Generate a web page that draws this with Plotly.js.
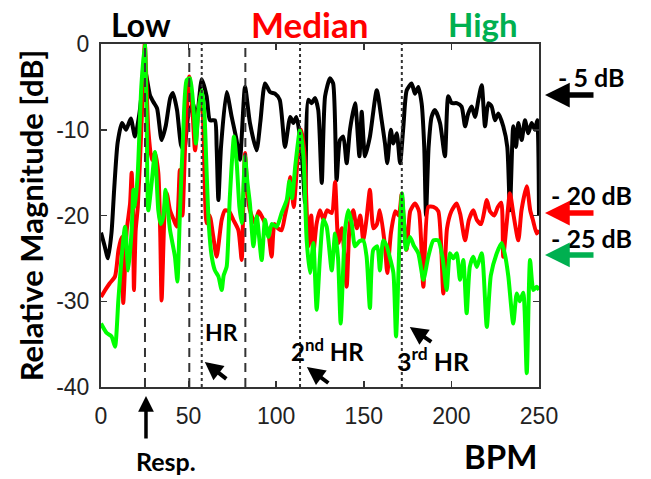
<!DOCTYPE html>
<html><head><meta charset="utf-8">
<script src="https://cdn.plot.ly/plotly-3.0.1.min.js"></script>
<style>html,body{margin:0;padding:0;background:#fff}#chart{width:651px;height:479px}</style>
</head><body><div id="chart"></div>
<script>
// ---- data (BPM, relative magnitude dB) ----
const lowX = [0,2,4,6,7.5,9.5,12,14.3,17,19.4,22,25,28,30,32,34.6,37,39.5,41,43.4,45.7,47.4,50,52.5,54.5,57.5,60.3,62.2,65,66,67,68.5,71.7,74.6,77.4,79.3,82.2,85,88.8,91,93.6,96.5,99.3,102,105,108,109.8,111.5,113,115,116.5,118.3,120.2,122.1,124,126,127.9,130.7,132.5,134.5,136.4,138.3,140.2,142.1,145,147.5,148.8,150.7,153.5,157.4,160.2,162.1,163.4,165.4,166.9,168.8,170.7,172.6,174.5,177.3,179.2,181.1,183,184.5,185.5,187,188.7,190.6,193.5,196.3,198.2,200.2,203,205.8,207.8,209.6,211.6,213.5,215.4,217.3,219.2,221.1,223,224.9,226.8,229.6,231.9,233.4,235.3,236.9,238.2,240.1,242,243.9,245.8,247.7,249,250];
const lowY = [-22,-23.5,-25,-22,-17,-11.5,-9.2,-10,-8.7,-10.8,-8,-3,-6,-6.8,-7.5,-11.2,-9.5,-6.3,-5.7,-7.7,-11.8,-12.4,-8,-7,-9,-4.1,-6.1,-8.9,-8.9,-12,-18.2,-12,-5.6,-8.5,-11.2,-13.5,-5.0,-9.2,-12.4,-9,-4.6,-5.6,-5.8,-6.5,-12,-8.5,-9.2,-8.5,-10,-14,-18.5,-6.5,-6.9,-6.3,-7.7,-16.2,-6.1,-4.0,-4.6,-15.9,-11.2,-10.8,-13.9,-10,-6.9,-13.1,-7.9,-13.1,-10.8,-5.4,-8.9,-11.6,-13.9,-10,-11.6,-10.4,-13.9,-9.6,-5.4,-4.6,-5.8,-5.0,-6.9,-12,-20,-12,-8.5,-7.7,-9.2,-13.1,-6.1,-6.9,-6.9,-7.3,-9.6,-8.1,-7.3,-8.5,-6.5,-4.8,-9.6,-6.9,-7.3,-8.9,-8.1,-9.6,-12,-19.4,-9.6,-12,-9.2,-11.2,-8.9,-10.4,-9.2,-10,-8.9,-20];

const medX = [0,3,5,8,10,11.8,12.7,14.7,16.6,17.5,18.3,18.8,19.8,21,23,25,27,29,30.8,32.7,33.8,34.6,36.5,37.5,39.4,41.5,43.2,45,46.5,48,50.4,52,53.7,55.5,57.3,58.5,60.3,62,64.1,66,68.9,70.8,73,75.5,78.4,80.3,81.2,82.2,83.5,85,87.9,90,91.5,93.6,95.5,97.4,99,101,103.1,105,106.5,108,110,112,114.3,116,117.4,118.3,120,121.2,123,125,127,129,131.7,133.6,135.5,137.5,140.2,142,144,146,148,149.7,151.5,153.5,155.5,157.5,159.2,162.1,163.4,165.5,168,170,171.6,173,174.5,176.5,179.2,181.5,184,186.8,189.7,192.5,195.4,197.5,200,203,205,207.8,210,212.5,214.5,217,220.2,222,224.5,226.5,228.5,229.6,231.5,233.4,235.5,238.2,240,243,245,246.5,248.7,250];
const medY = [-29.5,-28.5,-27.9,-27.1,-24,-22.5,-30.2,-21.7,-18.6,-15,-20,-28.7,-21.7,-19,-10,0,-10,-13.5,-12.7,-15,-22,-29.9,-18.6,-17.4,-19.4,-20.5,-21.3,-14.7,-20,-12,-3.8,-7,-12.4,-8,-5.5,-10,-20.9,-20,-22.5,-24.8,-20.5,-19.4,-19.5,-20.5,-21.7,-25.2,-19,-12.7,-17,-19.4,-20.9,-19.5,-20,-20.9,-22,-24.8,-21,-21.5,-21.7,-20,-18.5,-15.5,-19,-14,-10,-12.5,-19.4,-23.6,-20,-24.4,-21,-19.4,-20.5,-19.4,-19.7,-16.1,-23.2,-21.5,-28.3,-21,-19.4,-21.5,-20,-22.9,-20.5,-17,-21.5,-21,-19.4,-23.6,-26.7,-22,-19.5,-20,-17.5,-21,-24,-19.5,-18.6,-19.5,-28.3,-19,-19,-19.5,-29.1,-21.5,-19.5,-18.6,-19.8,-22.9,-20.5,-19.4,-20.5,-21,-18.2,-19.5,-20,-19,-18.5,-24.8,-21,-17.4,-20,-22.9,-19.4,-16.6,-19.4,-20.5,-22.1,-21.7];

const highX = [0,3.2,6,8,9.9,11.8,13.7,15.6,17.5,18.5,19.4,21,23,25,26,27,29,30.8,32.7,34,35.6,36.8,38,39.4,42.2,43.6,45,47,48.9,50.8,53,54.2,55.5,57.5,59,60.3,61.5,63.2,65,67,68.9,70,71.7,73.5,75.9,77.5,79,80.3,82.2,83.5,85,87,88.9,91.7,93.6,95.5,97.5,100.3,103.1,106,107.5,109,111,113.6,115.5,117.4,119.3,121.2,123.1,125,126.9,128.8,131.7,133.6,135.3,136.8,139.3,141.2,143.1,145,147.5,149.7,151.6,153.5,155.4,157.7,159.2,161.1,163,165,166.9,168.4,170.7,171.8,173,174,176.4,178.5,181.1,184,186.8,189.7,192.5,195,197.3,199.2,201,203,204.9,206.8,208.7,210.5,212.5,214.5,217.3,220.2,222.5,225.9,228.7,230.5,232.5,235.3,237.3,239,241,243,244.9,246.8,248.7,250];
const highY = [-32.6,-33.7,-34.1,-35.3,-29.9,-24.8,-21.3,-26.4,-21.7,-17,-19,-15,-5,0,-8,-19.4,-16,-12.6,-19.4,-21,-20.1,-17,-19,-21.7,-24.8,-27.7,-20,-10,-4.2,-4.0,-8.1,-11.6,-8,-5.4,-8,-15,-21,-24.8,-26.4,-27.1,-28.7,-27,-26,-18,-10.8,-14,-19,-20.9,-13.1,-16,-18.6,-23.6,-20.1,-25.2,-20.5,-22.5,-21,-21.3,-19.7,-18.2,-16,-18,-14,-10,-13,-22.9,-26.7,-23.2,-31,-24.8,-20.5,-21.3,-26.4,-22.1,-25,-32.6,-21.7,-19.4,-20.9,-23.6,-23,-22.9,-24.8,-30.8,-24,-23.6,-26.4,-22.9,-23.5,-25,-26.7,-34.1,-20.9,-17.4,-21,-24,-22.5,-23.5,-24.4,-27.5,-24.8,-22.9,-22.9,-25,-28.7,-24.4,-25,-24.4,-27.5,-25.2,-31.4,-26,-24.8,-26,-24.4,-33,-27,-24.4,-23.2,-24.5,-27.1,-32.6,-29.1,-30,-29,-38.4,-25.2,-28.7,-28.3,-28.7];

const dashedLines = [25.1, 50.4, 82.4];
const dottedLines = [57.5, 113.6, 171.7];
const xTicks = [0, 50, 100, 150, 200, 250];
const yTicks = [0, -10, -20, -30, -40];

const FONT = 'Lato, "Open Sans", sans-serif';
const tickFont = {family: '"Liberation Sans", Arial, sans-serif', size: 23, color: '#222'};

function trace(x, y, color) {
  return {x: x, y: y, type: 'scatter', mode: 'lines',
    line: {color: color, width: 4, shape: 'spline', smoothing: 0.6},
    hoverinfo: 'skip', showlegend: false};
}

const shapes = [];
dashedLines.forEach(v => shapes.push({type: 'line', xref: 'x', yref: 'paper', x0: v, x1: v, y0: 0, y1: 1,
  line: {color: '#333', width: 2, dash: '9px,6px'}}));
dottedLines.forEach(v => shapes.push({type: 'line', xref: 'x', yref: 'paper', x0: v, x1: v, y0: 0, y1: 1,
  line: {color: '#333', width: 2, dash: 'dot'}}));

function txt(x, y, text, size, color) {
  return {xref: 'paper', yref: 'paper', x: x, y: y, text: '<b>' + text + '</b>', showarrow: false,
    xanchor: 'center', yanchor: 'middle', font: {family: FONT, size: size, color: color}};
}
function arr(x, y, ax, ay, color, w) {
  return {xref: 'paper', yref: 'paper', x: x, y: y, ax: ax, ay: ay, text: '', showarrow: true,
    arrowhead: 2, arrowsize: 0.9, arrowwidth: w, arrowcolor: color};
}

const annotations = [
  txt(0.0913, 1.058, 'Low', 32, '#000'),
  txt(0.476, 1.058, 'Median', 35, '#ff0000'),
  txt(0.873, 1.058, 'High', 33, '#00b050'),
  txt(1.119, 0.904, '- 5 dB', 25, '#000'),
  txt(1.121, 0.560, '- 20 dB', 25, '#000'),
  txt(1.121, 0.434, '- 25 dB', 25, '#000'),
  arr(1.0137, 0.851, 50, 0, '#000', 5.5),
  arr(1.0137, 0.507, 50, 0, '#ff0000', 5.5),
  arr(1.0137, 0.385, 50, 0, '#00b050', 5.5),
  txt(0.274, 0.160, 'HR', 23, '#000'),
  arr(0.237, 0.0729, 23, 18, '#000', 4),
  txt(0.518, 0.108, '2<sup>nd</sup> HR', 24, '#000'),
  arr(0.470, 0.058, 23, 17, '#000', 4),
  txt(0.760, 0.079, '3<sup>rd</sup> HR', 25, '#000'),
  arr(0.705, 0.175, 23, 16, '#000', 4),
  arr(0.1027, -0.026, 0, 44, '#000', 3.5),
  txt(0.148, -0.216, 'Resp.', 25, '#000'),
  txt(0.913, -0.201, 'BPM', 33, '#000')
];

const layout = {
  width: 651, height: 479,
  margin: {l: 101, r: 112, t: 44, b: 92, pad: 0},
  paper_bgcolor: '#fff', plot_bgcolor: '#fff',
  showlegend: false,
  xaxis: {range: [0, 250], tickvals: xTicks, ticktext: xTicks.map(String), ticks: 'inside', ticklen: 6,
    tickwidth: 1.5, tickcolor: '#333', showline: true, linecolor: '#333', linewidth: 2, mirror: 'ticks',
    showgrid: false, zeroline: false, tickfont: tickFont, ticklabelstandoff: 7},
  yaxis: {range: [-40, 0], tickvals: yTicks, ticktext: yTicks.map(String), ticks: 'inside', ticklen: 6,
    tickwidth: 1.5, tickcolor: '#333', showline: true, linecolor: '#333', linewidth: 2, mirror: 'ticks',
    showgrid: false, zeroline: false, tickfont: tickFont, ticklabelstandoff: 5,
    title: {text: '<b>Relative Magnitude [dB]</b>', font: {family: FONT, size: 31, color: '#000'}, standoff: 3}},
  shapes: shapes,
  annotations: annotations
};

Plotly.newPlot('chart', [trace(lowX, lowY, '#000000'), trace(medX, medY, '#ff0000'), trace(highX, highY, '#00ff00')], layout, {staticPlot: true});
</script></body></html>
